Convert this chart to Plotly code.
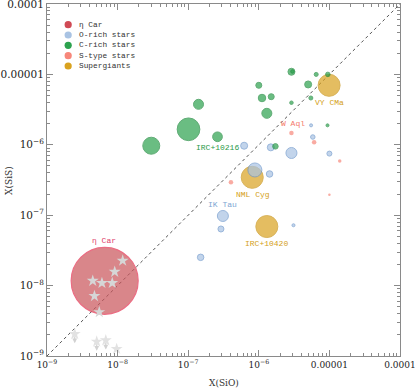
import numpy as np
import plotly.graph_objects as go

# ---------------- data ----------------
# eta Car (big circle)
etacar_x = [6.56e-9]
etacar_y = [1.17e-8]
etacar_size = [67]

# eta Car individual positions (stars)
star_x = [1.18e-8, 9.1e-9, 4.45e-9, 6.0e-9, 8.4e-9, 4.7e-9, 5.5e-9]
star_y = [2.26e-8, 1.57e-8, 1.17e-8, 1.09e-8, 1.09e-8, 7.1e-9, 4.2e-9]
# upper limits
ul_x = [2.47e-9, 5.06e-9, 6.8e-9, 9.7e-9]
ul_y = [2.05e-9, 1.6e-9, 1.67e-9, 1.26e-9]

orich_x = [5.5e-6, 5.82e-6, 6.2e-7, 1.48e-6, 2.9e-6, 1.0e-5, 8.8e-7, 1.42e-6, 3.1e-7, 2.91e-7, 3.1e-6, 1.5e-7]
orich_y = [1.89e-6, 1.29e-6, 9.7e-7, 9.2e-7, 7.65e-7, 7.5e-7, 4.39e-7, 3.85e-7, 9.75e-8, 6.37e-8, 7.2e-8, 2.52e-8]
orich_size = [3, 4.5, 7, 7, 11, 5, 14, 6.5, 11, 6, 3, 6.5]

crich_x = [2.9e-6, 3.0e-6, 6.5e-6, 9.5e-6, 1.0e-6, 5.0e-6, 1.11e-6, 1.5e-6, 2.9e-6, 5.46e-6, 1.3e-6, 9.4e-6, 2.6e-7, 1.72e-6, 1.4e-7, 1.01e-7, 3.0e-8]
crich_y = [1.09e-5, 1.1e-5, 1.0e-5, 1.0e-5, 7.0e-6, 7.2e-6, 4.62e-6, 4.82e-6, 3.96e-6, 4.62e-6, 2.8e-6, 1.89e-6, 1.3e-6, 9.5e-7, 3.76e-6, 1.66e-6, 9.7e-7]
crich_size = [7, 3.5, 4, 4.5, 6, 7, 7.5, 6, 3.5, 4, 10, 3, 9.7, 5.5, 10, 22.7, 17]

stype_x = [2.9e-6, 6.08e-6, 1.4e-5, 4.03e-7, 1.0e-5]
stype_y = [1.47e-6, 1.09e-6, 5.9e-7, 2.93e-7, 1.95e-7]
stype_size = [4.5, 4.5, 3.5, 4.5, 2.5]

sg_x = [9.9e-6, 8.07e-7, 1.3e-6]
sg_y = [7.0e-6, 3.45e-7, 6.9e-8]
sg_size = [22, 22, 22]

# labels: text, log10 x, log10 y, colour key
label_text = ["VY CMa", "W Aql", "IRC+10216", "NML Cyg", "IK Tau", "IRC+10420", "η Car"]
label_lx = [-5.0, -5.509, -6.588, -6.089, -6.508, -5.885, -8.197]
label_ly = [-5.402, -5.70, -6.041, -6.699, -6.855, -7.409, -7.362]
label_col = ["sg", "st", "cr", "sg", "or", "sg", "eta"]

legend_names = ["η Car", "O-rich stars", "C-rich stars", "S-type stars", "Supergiants"]
legend_keys = ["eta", "or", "cr", "st", "sg"]

x_tickvals = [1e-9, 1e-8, 1e-7, 1e-6, 1e-5, 1e-4]
x_ticktext = ["10<sup>−9</sup>", "10<sup>−8</sup>", "10<sup>−7</sup>", "10<sup>−6</sup>", "0.00001", "0.0001"]
y_ticktext = ["10<sup>−9</sup>", "10<sup>−8</sup>", "10<sup>−7</sup>", "10<sup>−6</sup>", "0.00001", "0.0001"]

# ---------------- styles ----------------
fill = {"eta": "#c9545a", "or": "#a9c3e3", "cr": "#2ca24e", "st": "#f7877a", "sg": "#d9a21f"}
edge = {"eta": "#e3304f", "or": "#6f98cc", "cr": "#1f8a3d", "st": "#f7877a", "sg": "#c99417"}
legfill = {"eta": "#d04a55", "or": "#a9c3e3", "cr": "#2ca24e", "st": "#f7877a", "sg": "#d9a21f"}
textcol = {"eta": "#e0406a", "or": "#80a6d2", "cr": "#2a9a48", "st": "#f47a6c", "sg": "#d4a020"}

MONO = "Liberation Mono"
SERIF = "DejaVu Serif"

fig = go.Figure()

# diagonal y = x
diag = [1e-9, 1e-4]
fig.add_trace(go.Scatter(x=diag, y=diag, mode="lines",
                         line=dict(color="#555555", width=1, dash="3px,3px"),
                         showlegend=False, hoverinfo="skip"))

def circles(xs, ys, sizes, key, width=1):
    fig.add_trace(go.Scatter(x=xs, y=ys, mode="markers", showlegend=False,
                             marker=dict(size=sizes, color=fill[key],
                                         line=dict(color=edge[key], width=width))))

circles(sg_x, sg_y, sg_size, "sg")
circles(etacar_x, etacar_y, etacar_size, "eta", width=1.2)
circles(orich_x, orich_y, orich_size, "or")
circles(crich_x, crich_y, crich_size, "cr")
circles(stype_x, stype_y, stype_size, "st", width=0)

fig.add_trace(go.Scatter(x=star_x, y=star_y, mode="markers", showlegend=False,
                         marker=dict(symbol="star", size=9, color="#d6d6d6",
                                     line=dict(width=0))))
fig.add_trace(go.Scatter(x=ul_x, y=ul_y, mode="markers", showlegend=False,
                         marker=dict(symbol="star", size=9, color="#e2e2e2",
                                     line=dict(width=0))))

annotations = []
# upper-limit arrows
for xv, yv in zip(ul_x, ul_y):
    annotations.append(dict(x=np.log10(xv), y=np.log10(yv) - 0.13, xref="x", yref="y",
                            ax=0, ay=-8, showarrow=True, arrowhead=2, arrowsize=0.8,
                            arrowwidth=1.2, arrowcolor="#d2d2d2", text=""))

# labels
for t, lx, ly, c in zip(label_text, label_lx, label_ly, label_col):
    annotations.append(dict(x=lx, y=ly, xref="x", yref="y", text=t, showarrow=False,
                            font=dict(family=MONO, size=8, color=textcol[c]),
                            xanchor="center", yanchor="middle"))

# manual legend
shapes = []
plot_l, plot_r, plot_t, plot_b = 46.5, 400.0, 4.0, 356.0
pw, ph = plot_r - plot_l, plot_b - plot_t
leg_rows_px = [24.7, 35.0, 45.3, 55.7, 66.0]
mx = (67.7 - plot_l) / pw
tx = (76.5 - plot_l) / pw
for name, key, rpx in zip(legend_names, legend_keys, leg_rows_px):
    yp = 1 - (rpx - plot_t) / ph
    shapes.append(dict(type="circle", xref="paper", yref="paper",
                       xsizemode="pixel", ysizemode="pixel",
                       xanchor=mx, yanchor=yp, x0=-3.6, x1=3.6, y0=-3.6, y1=3.6,
                       fillcolor=legfill[key], line=dict(width=0)))
    annotations.append(dict(x=tx, y=yp, xref="paper", yref="paper", text=name,
                            showarrow=False, xanchor="left", yanchor="middle",
                            font=dict(family=MONO, size=7.8, color="#333333")))

# axis titles
annotations.append(dict(x=0.5, y=-0.076, xref="paper", yref="paper", text="X(SiO)",
                        showarrow=False, xanchor="center", yanchor="middle",
                        font=dict(family=SERIF, size=9, color="#333333")))
annotations.append(dict(x=-0.108, y=0.5, xref="paper", yref="paper", text="X(SiS)",
                        showarrow=False, xanchor="center", yanchor="middle", textangle=-90,
                        font=dict(family=SERIF, size=9, color="#333333")))

minor_vals = [m * 10.0 ** e for e in range(-9, -4) for m in range(2, 10)]

axis_common = dict(type="log", showgrid=False, zeroline=False, showline=True,
                   linecolor="#8a8a8a", linewidth=1, mirror="allticks",
                   ticks="inside", ticklen=6, tickcolor="#8a8a8a", tickwidth=1,
                   tickmode="array", tickvals=x_tickvals, automargin=False,
                   ticklabeloverflow="allow",
                   minor=dict(ticks="inside", ticklen=3, tickcolor="#8a8a8a",
                              tickmode="array", tickvals=minor_vals, showgrid=False))

fig.update_layout(
    width=415, height=389,
    margin=dict(l=plot_l, r=415 - plot_r, t=plot_t, b=389 - plot_b, pad=0),
    paper_bgcolor="white", plot_bgcolor="white",
    showlegend=False,
    shapes=shapes, annotations=annotations,
)
fig.update_xaxes(**axis_common, ticktext=x_ticktext, range=[-9, -4],
                 tickfont=dict(family=SERIF, size=9, color="#222222"))
fig.update_yaxes(**axis_common, ticktext=y_ticktext, range=[-9, -4],
                 tickfont=dict(family=SERIF, size=10.5, color="#222222"))

fig.write_html("out.html", config={"displayModeBar": False},
               post_script="document.body.style.margin='0';document.body.style.overflow='hidden';")
